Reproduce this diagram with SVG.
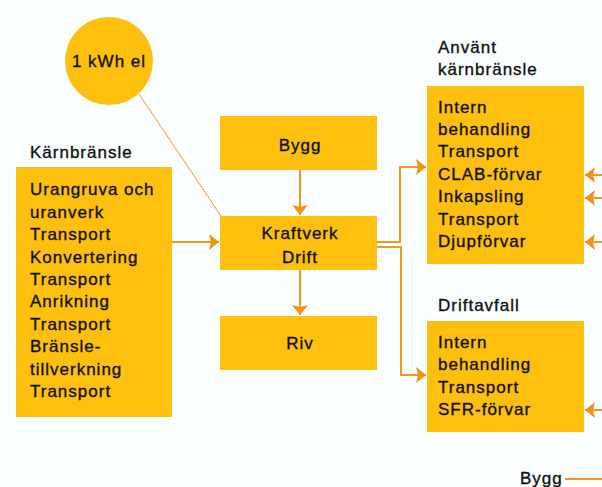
<svg xmlns="http://www.w3.org/2000/svg" width="602" height="487" viewBox="0 0 602 487">
<style>
.bg{fill:#FBFEFE}
.box{fill:#FDC00E}
.t{font-family:"Liberation Sans",Arial,sans-serif;font-size:17px;letter-spacing:1px;fill:#111;stroke:#111;stroke-width:0.35}
.c{text-anchor:middle}
.ln{stroke:#F4961C;stroke-width:2;fill:none}
.thin{stroke:#F4961C;stroke-width:1;fill:none}
</style>
<defs>
<marker id="ah" markerUnits="userSpaceOnUse" viewBox="0 0 10 16" refX="10" refY="8" markerWidth="10" markerHeight="16" orient="auto">
<path d="M0,0 L10,8 L0,16 L2,8 z" fill="#F39212"/>
</marker>
</defs>
<rect class="bg" x="0" y="0" width="602" height="487"/>

<g id="connectors">
<line class="thin" x1="139" y1="94" x2="221" y2="216"/>
<line class="ln" x1="172" y1="242" x2="219" y2="242" marker-end="url(#ah)"/>
<line class="ln" x1="300" y1="170" x2="300" y2="215" marker-end="url(#ah)"/>
<line class="ln" x1="300" y1="270" x2="300" y2="315" marker-end="url(#ah)"/>
<polyline class="ln" points="377,242 400,242 400,167 426,167" marker-end="url(#ah)"/>
<polyline class="ln" points="377,247 401,247 401,375 426,375" marker-end="url(#ah)"/>
<line class="ln" x1="602" y1="175" x2="585" y2="175" marker-end="url(#ah)"/>
<line class="ln" x1="602" y1="198" x2="585" y2="198" marker-end="url(#ah)"/>
<line class="ln" x1="602" y1="242" x2="585" y2="242" marker-end="url(#ah)"/>
<line class="ln" x1="602" y1="410" x2="585" y2="410" marker-end="url(#ah)"/>
</g>

<g id="el">
<circle class="box" cx="109" cy="61" r="44"/>
<text class="t c" x="109" y="67">1 kWh el</text>
</g>

<g id="karnbransle">
<text class="t" x="30" y="158">Kärnbränsle</text>
<rect class="box" x="16" y="167" width="156" height="250"/>
<text class="t" x="30" y="195">Urangruva och</text>
<text class="t" x="30" y="218">uranverk</text>
<text class="t" x="30" y="240">Transport</text>
<text class="t" x="30" y="263">Konvertering</text>
<text class="t" x="30" y="285">Transport</text>
<text class="t" x="30" y="307">Anrikning</text>
<text class="t" x="30" y="330">Transport</text>
<text class="t" x="30" y="352">Bränsle-</text>
<text class="t" x="30" y="375">tillverkning</text>
<text class="t" x="30" y="397">Transport</text>
</g>

<g id="bygg">
<rect class="box" x="220" y="116" width="157" height="54"/>
<text class="t c" x="300" y="151">Bygg</text>
</g>

<g id="kraftverk">
<rect class="box" x="220" y="216" width="157" height="54"/>
<text class="t c" x="300" y="239">Kraftverk</text>
<text class="t c" x="300" y="263">Drift</text>
</g>

<g id="riv">
<rect class="box" x="220" y="316" width="157" height="54"/>
<text class="t c" x="300" y="349">Riv</text>
</g>

<g id="anvant">
<text class="t" x="438" y="53">Använt</text>
<text class="t" x="438" y="75">kärnbränsle</text>
<rect class="box" x="427" y="86" width="157" height="178"/>
<text class="t" x="438" y="113">Intern</text>
<text class="t" x="438" y="135">behandling</text>
<text class="t" x="438" y="157">Transport</text>
<text class="t" x="438" y="180">CLAB-förvar</text>
<text class="t" x="438" y="202">Inkapsling</text>
<text class="t" x="438" y="225">Transport</text>
<text class="t" x="438" y="247">Djupförvar</text>
</g>

<g id="driftavfall">
<text class="t" x="438" y="311">Driftavfall</text>
<rect class="box" x="427" y="321" width="157" height="111"/>
<text class="t" x="438" y="348">Intern</text>
<text class="t" x="438" y="370">behandling</text>
<text class="t" x="438" y="393">Transport</text>
<text class="t" x="438" y="415">SFR-förvar</text>
</g>

<g id="legend">
<text class="t" x="520" y="484">Bygg</text>
<line class="ln" x1="565" y1="479" x2="602" y2="479"/>
</g>
</svg>
